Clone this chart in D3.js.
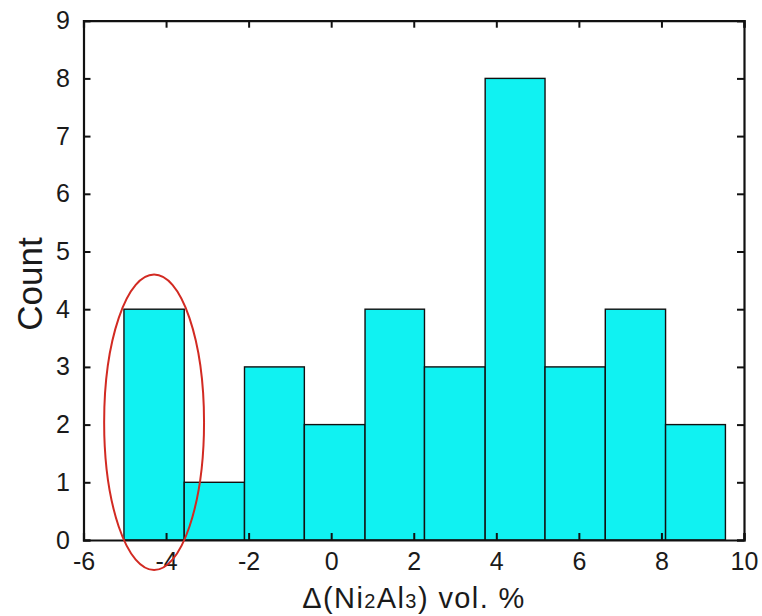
<!DOCTYPE html>
<head>
<meta charset="utf-8">
<title>Histogram</title>
<style>
body { margin: 0; background: #fff; }
text { font-family: "Liberation Sans", Arial, sans-serif; fill: #1a1a1a; }
</style>
<script src="https://cdn.jsdelivr.net/npm/d3@7/dist/d3.min.js"></script>
</head>
<body>
<script>
// bin edges (width ~1.457)
var binEdges = [-5.02, -3.56, -2.10, -0.65, 0.82, 2.26, 3.73, 5.18, 6.64, 8.10, 9.55];
var counts = [4, 1, 3, 2, 4, 3, 8, 3, 4, 2];
var xTicks = [-6, -4, -2, 0, 2, 4, 6, 8, 10];
var yTicks = [0, 1, 2, 3, 4, 5, 6, 7, 8, 9];
// highlighted ellipse, data units
var ellipse = {cx: -4.29, cy: 2.04, rx: 1.21, ry: 2.56};

var W = 762, H = 616;
var m = {left: 83.5, top: 20.7, right: 18, bottom: 76};
var w = W - m.left - m.right, h = H - m.top - m.bottom;

var svg = d3.select("body").append("svg").attr("width", W).attr("height", H);
var g = svg.append("g").attr("transform", "translate(" + m.left + "," + m.top + ")");

var x = d3.scaleLinear().domain([-6, 10]).range([0, w]);
var y = d3.scaleLinear().domain([0, 9]).range([h, 0]);

var bins = counts.map(function(c, i) { return {x0: binEdges[i], x1: binEdges[i + 1], n: c}; });

g.selectAll("rect.bar").data(bins).enter().append("rect")
  .attr("class", "bar")
  .attr("x", function(d) { return x(d.x0); })
  .attr("y", function(d) { return y(d.n); })
  .attr("width", function(d) { return x(d.x1) - x(d.x0); })
  .attr("height", function(d) { return h - y(d.n); })
  .attr("fill", "#10f2f2")
  .attr("stroke", "#111")
  .attr("stroke-width", 1.4);

// plain hyphen for negatives, like the original
var fmt = function(d) { return String(d); };

// axes, ticks pointing inward
var axB = g.append("g").attr("transform", "translate(0," + h + ")")
  .call(d3.axisBottom(x).tickValues(xTicks).tickSize(-7).tickPadding(12.5).tickFormat(fmt));
var axT = g.append("g")
  .call(d3.axisTop(x).tickValues(xTicks).tickSize(-7).tickFormat(""));
var axL = g.append("g")
  .call(d3.axisLeft(y).tickValues(yTicks).tickSize(-7).tickPadding(13.5).tickFormat(fmt));
var axR = g.append("g").attr("transform", "translate(" + w + ",0)")
  .call(d3.axisRight(y).tickValues(yTicks).tickSize(-7).tickFormat(""));

[axB, axT, axL, axR].forEach(function(a) {
  a.select(".domain").attr("stroke", "#111").attr("stroke-width", 2.2);
  a.selectAll(".tick line").attr("stroke", "#111").attr("stroke-width", 2);
  a.selectAll(".tick text").style("font-size", "25px").attr("fill", "#1a1a1a")
    .style("font-family", "'Liberation Sans', Arial, sans-serif");
});

g.append("ellipse")
  .attr("cx", x(ellipse.cx)).attr("cy", y(ellipse.cy))
  .attr("rx", x(ellipse.cx + ellipse.rx) - x(ellipse.cx))
  .attr("ry", y(0) - y(ellipse.ry))
  .attr("fill", "none").attr("stroke", "#d22a22").attr("stroke-width", 2);

// axis titles
svg.append("text")
  .attr("transform", "translate(42," + 284 + ") rotate(-90)")
  .attr("text-anchor", "middle")
  .style("font-size", "35px")
  .text("Count");

var xl = svg.append("text")
  .attr("x", 414).attr("y", 608)
  .attr("text-anchor", "middle")
  .style("font-size", "29px")
  .style("letter-spacing", "1.4px");
xl.append("tspan").text("\u0394(Ni");
xl.append("tspan").style("font-size", "20px").text("2");
xl.append("tspan").text("Al");
xl.append("tspan").style("font-size", "20px").text("3");
xl.append("tspan").text(") vol. %");
</script>
</body>
